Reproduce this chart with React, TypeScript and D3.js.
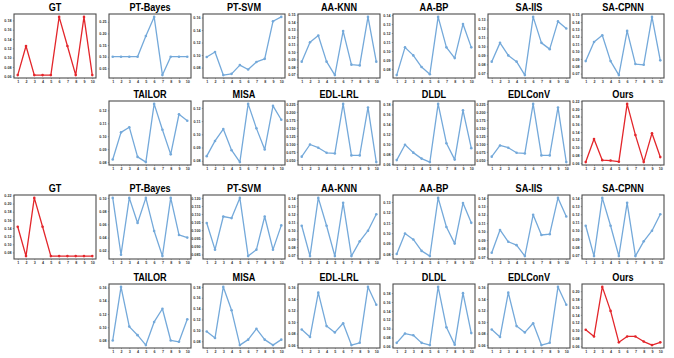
import React, { useEffect, useRef } from "react";
import * as d3 from "d3";

// label index on the x axis
const xLabels = [1, 2, 3, 4, 5, 6, 7, 8, 9, 10];

// ---- case 1 (top block) ----
const gt1 = [0.0625, 0.125, 0.0625, 0.0625, 0.0625, 0.1875, 0.125, 0.0625, 0.1875, 0.0625];
const ptBayes1 = [0.1, 0.1, 0.1, 0.1, 0.189, 0.271, 0.021, 0.1, 0.1, 0.1];
const ptSvm1 = [0.097, 0.105, 0.068, 0.07, 0.084, 0.077, 0.089, 0.094, 0.154, 0.161];
const aaKnn1 = [0.087, 0.113, 0.122, 0.087, 0.069, 0.128, 0.083, 0.082, 0.147, 0.087];
const aaBp1 = [0.073, 0.104, 0.095, 0.082, 0.074, 0.138, 0.104, 0.092, 0.13, 0.104];
const saIis1 = [0.083, 0.104, 0.09, 0.083, 0.068, 0.133, 0.104, 0.097, 0.128, 0.12];
const saCpnn1 = [0.087, 0.113, 0.122, 0.087, 0.068, 0.128, 0.083, 0.082, 0.147, 0.088];
const tailor1 = [0.082, 0.103, 0.107, 0.084, 0.08, 0.125, 0.105, 0.086, 0.117, 0.112];
const misa1 = [0.0835, 0.095, 0.104, 0.088, 0.079, 0.123, 0.1045, 0.0885, 0.1215, 0.111];
const edlLrl1 = [0.06, 0.098, 0.088, 0.072, 0.07, 0.225, 0.064, 0.064, 0.214, 0.043];
const dldl1 = [0.068, 0.099, 0.083, 0.071, 0.064, 0.181, 0.102, 0.069, 0.168, 0.092];
const edlConv1 = [0.06, 0.095, 0.088, 0.072, 0.07, 0.225, 0.064, 0.064, 0.214, 0.043];
const ours1 = [0.062, 0.122, 0.067, 0.066, 0.063, 0.213, 0.132, 0.062, 0.137, 0.075];

// ---- case 2 (bottom block) ----
const gt2 = [0.143, 0.071, 0.214, 0.143, 0.071, 0.071, 0.071, 0.071, 0.071, 0.071];
const ptBayes2 = [0.1, 0.014, 0.1, 0.062, 0.1, 0.05, 0.012, 0.1, 0.044, 0.04];
const ptSvm2 = [0.1045, 0.088, 0.1085, 0.1075, 0.12, 0.084, 0.088, 0.1085, 0.088, 0.103];
const aaKnn2 = [0.106, 0.069, 0.14, 0.106, 0.069, 0.134, 0.069, 0.087, 0.1, 0.12];
const aaBp2 = [0.08, 0.0997, 0.094, 0.083, 0.078, 0.134, 0.106, 0.09, 0.129, 0.11];
const saIis2 = [0.075, 0.102, 0.088, 0.084, 0.071, 0.12, 0.096, 0.097, 0.14, 0.118];
const saCpnn2 = [0.106, 0.069, 0.14, 0.106, 0.069, 0.134, 0.069, 0.087, 0.1, 0.12];
const tailor2 = [0.08, 0.161, 0.101, 0.088, 0.073, 0.108, 0.128, 0.08, 0.078, 0.112];
const misa2 = [0.098, 0.086, 0.18, 0.137, 0.073, 0.083, 0.103, 0.083, 0.073, 0.083];
const edlLrl2 = [0.087, 0.074, 0.151, 0.093, 0.082, 0.098, 0.06, 0.064, 0.161, 0.13];
const dldl2 = [0.068, 0.089, 0.085, 0.068, 0.063, 0.194, 0.103, 0.064, 0.18, 0.09];
const edlConv2 = [0.087, 0.074, 0.151, 0.093, 0.082, 0.098, 0.06, 0.064, 0.161, 0.13];
const ours2 = [0.102, 0.085, 0.211, 0.15, 0.07, 0.085, 0.085, 0.072, 0.063, 0.07];

// y tick labels
const ticksA = [0.06, 0.08, 0.1, 0.12, 0.14, 0.16, 0.18];
const ticksB = [0.05, 0.1, 0.15, 0.2, 0.25];
const ticksC = [0.08, 0.1, 0.12, 0.14, 0.16];
const ticksD = [0.07, 0.08, 0.09, 0.1, 0.11, 0.12, 0.13, 0.14, 0.15];
const ticksE = [0.08, 0.09, 0.1, 0.11, 0.12, 0.13, 0.14];
const ticksF = [0.07, 0.08, 0.09, 0.1, 0.11, 0.12, 0.13];
const ticksG = [0.08, 0.09, 0.1, 0.11, 0.12];
const ticksH = [0.05, 0.075, 0.1, 0.125, 0.15, 0.175, 0.2, 0.225];
const ticksI = [0.06, 0.08, 0.1, 0.12, 0.14, 0.16, 0.18, 0.2, 0.22];
const ticksJ = [0.08, 0.1, 0.12, 0.14, 0.16, 0.18, 0.2, 0.22];
const ticksK = [0.02, 0.04, 0.06, 0.08, 0.1];
const ticksL = [0.085, 0.09, 0.095, 0.1, 0.105, 0.11, 0.115, 0.12];
const ticksM = [0.07, 0.08, 0.09, 0.1, 0.11, 0.12, 0.13, 0.14];
const ticksN = [0.08, 0.09, 0.1, 0.11, 0.12, 0.13];
const ticksO = [0.08, 0.1, 0.12, 0.14, 0.16];
const ticksP = [0.08, 0.1, 0.12, 0.14, 0.16, 0.18];
const ticksQ = [0.06, 0.08, 0.1, 0.12, 0.14, 0.16];
const ticksR = [0.06, 0.08, 0.1, 0.12, 0.14, 0.16, 0.18, 0.2];

const panels = [
  { title: "GT", values: gt1, ticks: ticksA, col: 0, row: 0, red: true },
  { title: "PT-Bayes", values: ptBayes1, ticks: ticksB, col: 1, row: 0 },
  { title: "PT-SVM", values: ptSvm1, ticks: ticksC, col: 2, row: 0 },
  { title: "AA-KNN", values: aaKnn1, ticks: ticksD, col: 3, row: 0 },
  { title: "AA-BP", values: aaBp1, ticks: ticksE, col: 4, row: 0 },
  { title: "SA-IIS", values: saIis1, ticks: ticksF, col: 5, row: 0 },
  { title: "SA-CPNN", values: saCpnn1, ticks: ticksD, col: 6, row: 0 },
  { title: "TAILOR", values: tailor1, ticks: ticksG, col: 1, row: 1 },
  { title: "MISA", values: misa1, ticks: ticksG, col: 2, row: 1 },
  { title: "EDL-LRL", values: edlLrl1, ticks: ticksH, col: 3, row: 1 },
  { title: "DLDL", values: dldl1, ticks: ticksA, col: 4, row: 1 },
  { title: "EDLConV", values: edlConv1, ticks: ticksH, col: 5, row: 1 },
  { title: "Ours", values: ours1, ticks: ticksI, col: 6, row: 1, red: true },

  { title: "GT", values: gt2, ticks: ticksJ, col: 0, row: 2, red: true },
  { title: "PT-Bayes", values: ptBayes2, ticks: ticksK, col: 1, row: 2 },
  { title: "PT-SVM", values: ptSvm2, ticks: ticksL, col: 2, row: 2 },
  { title: "AA-KNN", values: aaKnn2, ticks: ticksM, col: 3, row: 2 },
  { title: "AA-BP", values: aaBp2, ticks: ticksN, col: 4, row: 2 },
  { title: "SA-IIS", values: saIis2, ticks: ticksM, col: 5, row: 2 },
  { title: "SA-CPNN", values: saCpnn2, ticks: ticksM, col: 6, row: 2 },
  { title: "TAILOR", values: tailor2, ticks: ticksO, col: 1, row: 3 },
  { title: "MISA", values: misa2, ticks: ticksP, col: 2, row: 3 },
  { title: "EDL-LRL", values: edlLrl2, ticks: ticksQ, col: 3, row: 3 },
  { title: "DLDL", values: dldl2, ticks: ticksA, col: 4, row: 3 },
  { title: "EDLConV", values: edlConv2, ticks: ticksQ, col: 5, row: 3 },
  { title: "Ours", values: ours2, ticks: ticksR, col: 6, row: 3, red: true },
];

const colX = [14, 109, 203, 298, 393, 488, 582];
const rowY = [14, 101, 195, 284];
const boxW = 82;
const boxH = 64;
const BLUE = "#74a9da";
const RED = "#e3262b";

export default function App() {
  const ref = useRef<SVGSVGElement>(null);

  useEffect(() => {
    const svg = d3.select(ref.current);
    svg.selectAll("*").remove();

    panels.forEach((p) => {
      const g = svg.append("g").attr("transform", `translate(${colX[p.col]},${rowY[p.row]})`);
      const color = p.red ? RED : BLUE;

      const x = d3.scaleLinear().domain([0.55, 10.45]).range([0, boxW]);
      const [lo, hi] = d3.extent(p.values) as [number, number];
      const pad = (hi - lo) * 0.05; // matplotlib style margins
      const y = d3.scaleLinear().domain([lo - pad, hi + pad]).range([boxH, 0]);

      const threeDec = p.ticks.some((t) => Math.abs(Math.round(t * 100) - t * 100) > 1e-6);
      const fmt = d3.format(threeDec ? ".3f" : ".2f");

      const yAxis = g.append("g")
        .call(d3.axisLeft(y).tickValues(p.ticks).tickFormat((d) => fmt(d as number)).tickSize(1.2).tickPadding(1.3));
      const xAxis = g.append("g")
        .attr("transform", `translate(0,${boxH})`)
        .call(d3.axisBottom(x).tickValues(xLabels).tickFormat(d3.format("d")).tickSize(1.2).tickPadding(1));
      [yAxis, xAxis].forEach((a) => {
        a.select(".domain").remove();
        a.attr("font-size", 3.7).attr("font-family", "Liberation Sans, Arial, sans-serif").attr("font-weight", "bold");
        a.selectAll("line").attr("stroke", "#555").attr("stroke-width", 0.5);
        a.selectAll("text").attr("fill", "#333");
      });

      const line = d3.line<number>()
        .x((_, i) => x(xLabels[i]))
        .y((d) => y(d));
      g.append("path")
        .datum(p.values)
        .attr("d", line)
        .attr("fill", "none")
        .attr("stroke", color)
        .attr("stroke-width", 1.3)
        .attr("stroke-linejoin", "round");

      g.selectAll("circle.pt")
        .data(p.values)
        .enter()
        .append("circle")
        .attr("class", "pt")
        .attr("cx", (_, i) => x(xLabels[i]))
        .attr("cy", (d) => y(d))
        .attr("r", 1.3)
        .attr("fill", color);

      g.append("rect")
        .attr("width", boxW)
        .attr("height", boxH)
        .attr("fill", "none")
        .attr("stroke", "#4d4d4d")
        .attr("stroke-width", 1.1);

      g.append("text")
        .attr("transform", `translate(${boxW / 2},-3) scale(0.83,1)`)
        .attr("text-anchor", "middle")
        .attr("font-family", "Liberation Sans, Arial, sans-serif")
        .attr("font-weight", "bold")
        .attr("font-size", 11)
        .attr("fill", "#000")
        .text(p.title);
    });
  }, []);

  return (
    <svg
      ref={ref}
      width={674}
      height={358}
      style={{ position: "absolute", left: 0, top: 0, background: "#fff" }}
    />
  );
}
